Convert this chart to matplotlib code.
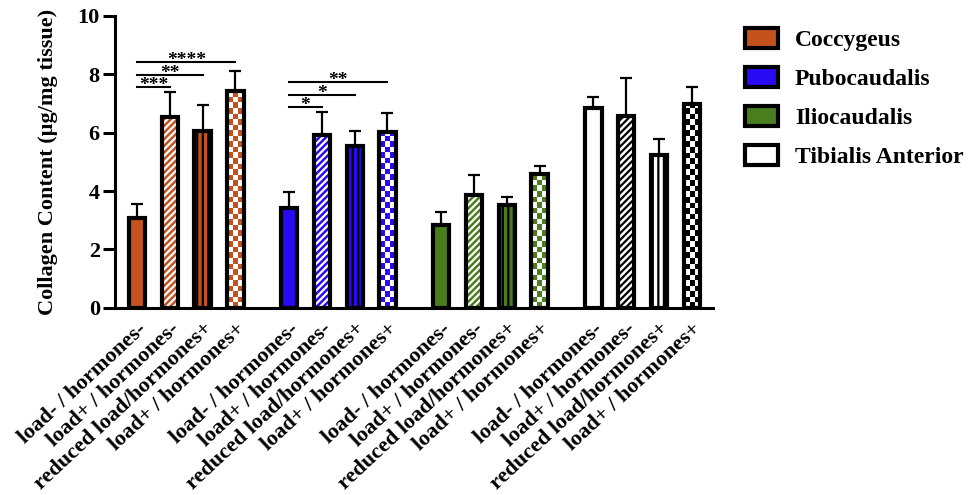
import numpy as np
import matplotlib
matplotlib.use("Agg")
import matplotlib.pyplot as plt
from matplotlib.patches import Patch

plt.rcParams['font.family'] = ['Liberation Serif', 'DejaVu Serif']
plt.rcParams['font.weight'] = 'bold'
plt.rcParams['axes.labelweight'] = 'bold'
plt.rcParams['hatch.linewidth'] = 1.6

# data
muscles = ["Coccygeus", "Pubocaudalis", "Iliocaudalis", "Tibialis Anterior"]
conditions = ["load- / hormones-", "load+ / hormones-",
              "reduced load/hormones+", "load+ / hormones+"]
colors = ["#C4521F", "#2A0AF5", "#4A7D1E", "#FFFFFF"]

coccygeus = [3.08, 6.53, 6.05, 7.42]
coccygeus_err = [0.49, 0.86, 0.89, 0.68]
pubocaudalis = [3.43, 5.91, 5.53, 6.01]
pubocaudalis_err = [0.55, 0.79, 0.52, 0.65]
iliocaudalis = [2.85, 3.88, 3.54, 4.57]
iliocaudalis_err = [0.44, 0.66, 0.24, 0.28]
tibialis = [6.84, 6.56, 5.22, 6.98]
tibialis_err = [0.38, 1.31, 0.55, 0.58]

means = [coccygeus, pubocaudalis, iliocaudalis, tibialis]
errs = [coccygeus_err, pubocaudalis_err, iliocaudalis_err, tibialis_err]

# (muscle, bar a, bar b, height, stars)
sig = [(0, 0, 1, 7.55, "***"), (0, 0, 2, 7.97, "**"), (0, 0, 3, 8.42, "****"),
       (1, 0, 1, 6.87, "*"), (1, 0, 2, 7.28, "*"), (1, 0, 3, 7.73, "**")]

group_step = 4.64
width = 0.5
edge_lw = 3.0

fig = plt.figure(figsize=(9.75, 4.95), dpi=100)
ax = fig.add_axes([0.118, 0.378, 0.613, 0.59])

xs_all = []
for g in range(4):
    col = colors[g]
    dark = "black" if g == 3 else col
    for i in range(4):
        x = g * group_step + i
        xs_all.append(x)
        h = means[g][i]
        if i == 0:
            ax.bar(x, h, width, color=col, edgecolor="black", lw=edge_lw, zorder=3)
        elif i == 1:
            hc = "black" if g == 3 else "white"
            ax.bar(x, h, width, color=col, edgecolor=hc, hatch="/////", lw=0, zorder=2)
            ax.bar(x, h, width, color="none", edgecolor="black", lw=edge_lw, zorder=3)
        elif i == 2:
            ax.bar(x, h, width, color=col, edgecolor="black", hatch="|||", lw=0, zorder=2)
            ax.bar(x, h, width, color="none", edgecolor="black", lw=edge_lw, zorder=3)
        else:
            b = ax.bar(x, h, width, color="white", lw=0, zorder=2)[0]
            cell = 0.19
            nrow = int(np.ceil(h / cell))
            chk = (np.add.outer(np.arange(nrow), np.arange(3)) % 2)
            cm = matplotlib.colors.ListedColormap(["white", dark])
            im = ax.imshow(chk, cmap=cm, extent=(x - width / 2, x + width / 2, nrow * cell, 0),
                           aspect="auto", interpolation="nearest", zorder=2.5)
            im.set_clip_path(b)
            ax.bar(x, h, width, color="none", edgecolor="black", lw=edge_lw, zorder=3)
        ax.errorbar(x, h, yerr=[[0], [errs[g][i]]], fmt="none", ecolor="black",
                    elinewidth=1.6, capsize=4.5, capthick=1.6, zorder=2)

for g, a, b, y, s in sig:
    x0 = g * group_step + a
    x1 = g * group_step + b
    ax.plot([x0, x1], [y, y], color="black", lw=1.5)
    ax.text((x0 + x1) / 2, y - 0.1, s, ha="center", va="baseline", fontsize=14)

ax.set_xlim(-0.67, 3 * group_step + 3.64)
ax.set_ylim(0, 10)
ax.set_yticks([0, 2, 4, 6, 8, 10])
ax.set_xticks(xs_all)
ax.set_xticklabels(conditions * 4, rotation=43, ha="right", rotation_mode="anchor",
                   fontsize=16)
ax.tick_params(axis="x", length=0, pad=8)
ax.tick_params(axis="y", length=9, width=2.2, labelsize=16, pad=2)
ax.set_ylabel("Collagen Content (µg/mg tissue)", fontsize=16, fontweight="bold",
              labelpad=14)
for sp in ["top", "right"]:
    ax.spines[sp].set_visible(False)
for sp in ["left", "bottom"]:
    ax.spines[sp].set_linewidth(2.2)

handles = [Patch(facecolor=c, edgecolor="black", lw=edge_lw) for c in colors]
fig.legend(handles, muscles, loc="upper left", bbox_to_anchor=(0.764, 0.943),
           frameon=False, prop={"weight": "bold", "size": 17}, handlelength=1.4,
           handleheight=0.9, labelspacing=0.68, handletextpad=0.72,
           borderpad=0, borderaxespad=0)

fig.savefig("out.png", dpi=100)
